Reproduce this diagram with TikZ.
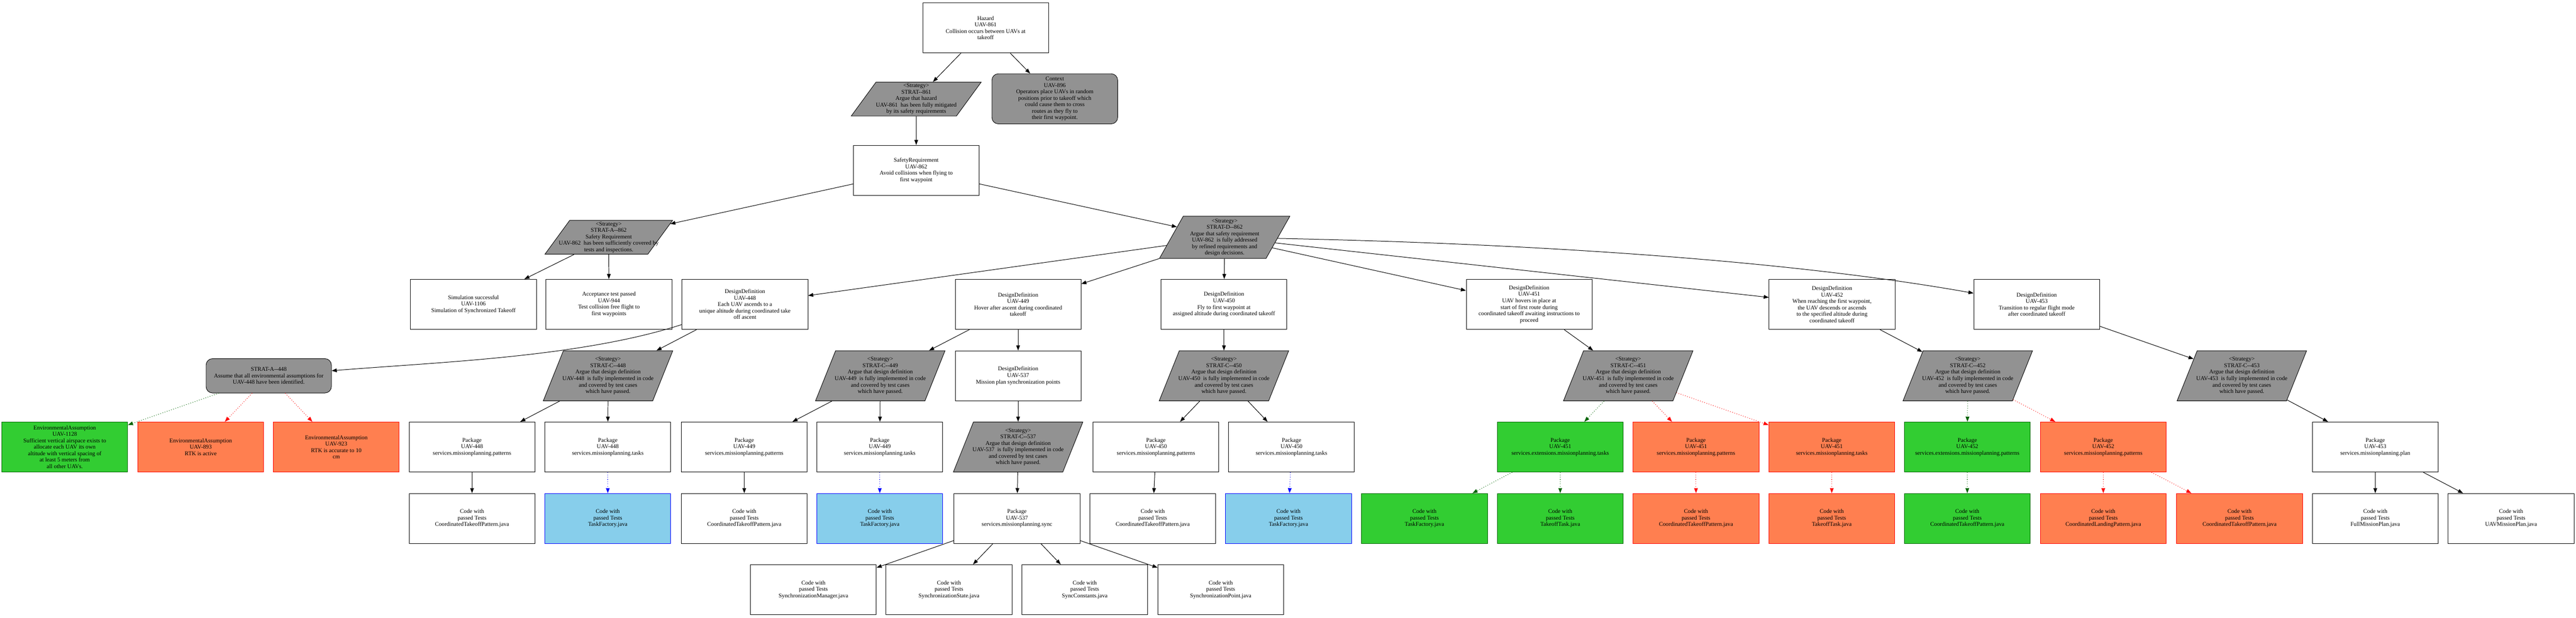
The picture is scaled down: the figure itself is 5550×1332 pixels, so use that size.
\documentclass[tikz,border=0pt]{standalone}
\usepackage{fontspec}
\setmainfont{Liberation Serif}[Ligatures=TeXOff]
\usetikzlibrary{arrows.meta,shapes.geometric}
\definecolor{stratgrey}{HTML}{929292}
\definecolor{okfill}{HTML}{32CD32}
\definecolor{okline}{HTML}{006400}
\definecolor{badfill}{HTML}{FF7F50}
\definecolor{badline}{HTML}{FF0000}
\definecolor{testfill}{HTML}{87CEEB}
\definecolor{testline}{HTML}{0000FF}
\newcommand{\stratlines}[1]{\hbox to 0pt{\hss\begin{tabular}{@{}c@{}}#1\end{tabular}\hss}}

\begin{document}
\begin{tikzpicture}[x=1pt,y=-1pt,>={Triangle[length=11pt,width=8pt]},
		every node/.style={font=\fontsize{12.5}{13.9}\selectfont},
		box/.style={draw,fill=white,line width=1pt,minimum width=271pt,minimum height=108pt,inner sep=0pt,align=center},
		okbox/.style={box,draw=okline,fill=okfill},
		badbox/.style={box,draw=badline,fill=badfill},
		testbox/.style={box,draw=testline,fill=testfill},
		ctxbox/.style={box,fill=stratgrey,rounded corners=14pt},
		stratbox/.style={trapezium,trapezium left angle=62.6,trapezium right angle=117.4,trapezium stretches body,draw,fill=stratgrey,line width=1pt,minimum width=279pt,minimum height=108pt,inner sep=0pt},
		link/.style={->,line width=1.1pt},
		oklink/.style={link,okline,dash pattern=on 1.3pt off 3.6pt},
		badlink/.style={link,badline,dash pattern=on 1.3pt off 3.6pt},
		testlink/.style={link,testline,dash pattern=on 1.3pt off 3.6pt}]
		%
		\useasboundingbox (0,0) rectangle (5550,1332);
		%
		\node[box] (haz) at (2123.5,60) {Hazard\\UAV-861\\Collision occurs between UAVs at\\takeoff};
		\node[stratbox,minimum height=73pt,minimum width=280pt,trapezium left angle=52.5,trapezium right angle=127.5] (s861) at (1974,213.5) {\stratlines{<Strategy>\\STRAT--861\\Argue that hazard\\UAV-861~ has been fully mitigated\\by its safety requirements}};
		\node[ctxbox] (ctx) at (2272.5,213) {Context\\UAV-896\\Operators place UAVs in random\\positions prior to takeoff which\\could cause them to cross\\routes as they fly to\\their first waypoint.};
		\node[box] (sr862) at (1974,367) {SafetyRequirement\\UAV-862\\Avoid collisions when flying to\\first waypoint};
		%
		\node[stratbox,minimum height=73pt,minimum width=275pt,trapezium left angle=52.5,trapezium right angle=127.5] (sA862) at (1311.5,511.5) {\stratlines{<Strategy>\\STRAT-A--862\\Safety Requirement\\UAV-862~ has been sufficiently covered by\\tests and inspections.}};
		\node[stratbox,minimum height=91pt,minimum width=281pt,trapezium left angle=58.4,trapezium right angle=121.6] (sD862) at (2638.5,511.5) {\stratlines{<Strategy>\\STRAT-D--862\\Argue that safety requirement\\UAV-862~ is fully addressed\\by refined requirements and\\design decisions.}};
		%
		\node[box] (sim1106) at (1020,656) {Simulation successful\\UAV-1106\\Simulation of Synchronized Takeoff};
		\node[box] (acc944) at (1312,656) {Acceptance test passed\\UAV-944\\Test collision free flight to\\first waypoints};
		\node[box] (dd448) at (1605,656) {DesignDefinition\\UAV-448\\Each UAV ascends to a\\unique altitude during coordinated take\\off ascent};
		\node[box] (dd449) at (2193.5,656) {DesignDefinition\\UAV-449\\Hover after ascent during coordinated\\takeoff};
		\node[box] (dd450) at (2637,656) {DesignDefinition\\UAV-450\\Fly to first waypoint at\\assigned altitude during coordinated takeoff};
		\node[box] (dd451) at (3294.5,656) {DesignDefinition\\UAV-451\\UAV hovers in place at\\start of first route during\\coordinated takeoff awaiting instructions to\\proceed};
		\node[box] (dd452) at (3947,656) {DesignDefinition\\UAV-452\\When reaching the first waypoint,\\the UAV descends or ascends\\to the specified altitude during\\coordinated takeoff};
		\node[box] (dd453) at (4388,656) {DesignDefinition\\UAV-453\\Transition to regular flight mode\\after coordinated takeoff};
		%
		\node[ctxbox,minimum width=270pt,minimum height=74pt] (sA448) at (579,810) {STRAT-A--448\\Assume that all environmental assumptions for\\UAV-448 have been identified.};
		\node[stratbox] (sC448) at (1310,810) {\stratlines{<Strategy>\\STRAT-C--448\\Argue that design definition\\UAV-448~ is fully implemented in code\\and covered by test cases\\which have passed.}};
		\node[stratbox] (sC449) at (1896.5,810) {\stratlines{<Strategy>\\STRAT-C--449\\Argue that design definition\\UAV-449~ is fully implemented in code\\and covered by test cases\\which have passed.}};
		\node[box] (dd537) at (2193.5,810) {DesignDefinition\\UAV-537\\Mission plan synchronization points};
		\node[stratbox] (sC450) at (2637,810) {\stratlines{<Strategy>\\STRAT-C--450\\Argue that design definition\\UAV-450~ is fully implemented in code\\and covered by test cases\\which have passed.}};
		\node[stratbox] (sC451) at (3508,810) {\stratlines{<Strategy>\\STRAT-C--451\\Argue that design definition\\UAV-451~ is fully implemented in code\\and covered by test cases\\which have passed.}};
		\node[stratbox] (sC452) at (4239.5,810) {\stratlines{<Strategy>\\STRAT-C--452\\Argue that design definition\\UAV-452~ is fully implemented in code\\and covered by test cases\\which have passed.}};
		\node[stratbox] (sC453) at (4830,810) {\stratlines{<Strategy>\\STRAT-C--453\\Argue that design definition\\UAV-453~ is fully implemented in code\\and covered by test cases\\which have passed.}};
		%
		\node[okbox] (env1128) at (139.5,963.5) {EnvironmentalAssumption\\UAV-1128\\Sufficient vertical airspace exists to\\allocate each UAV its own\\altitude with vertical spacing of\\at least 5 meters from\\all other UAVs.};
		\node[badbox] (env893) at (432.5,963.5) {EnvironmentalAssumption\\UAV-893\\RTK is active};
		\node[badbox] (env923) at (724.5,963.5) {EnvironmentalAssumption\\UAV-923\\RTK is accurate to 10\\cm};
		\node[box] (p448pat) at (1017,963.5) {Package\\UAV-448\\services.missionplanning.patterns};
		\node[box] (p448tsk) at (1309.5,963.5) {Package\\UAV-448\\services.missionplanning.tasks};
		\node[box] (p449pat) at (1603.5,963.5) {Package\\UAV-449\\services.missionplanning.patterns};
		\node[box] (p449tsk) at (1895.5,963.5) {Package\\UAV-449\\services.missionplanning.tasks};
		\node[stratbox] (sC537) at (2193.5,963.5) {\stratlines{<Strategy>\\STRAT-C--537\\Argue that design definition\\UAV-537~ is fully implemented in code\\and covered by test cases\\which have passed.}};
		\node[box] (p450pat) at (2490.5,963.5) {Package\\UAV-450\\services.missionplanning.patterns};
		\node[box] (p450tsk) at (2782.5,963.5) {Package\\UAV-450\\services.missionplanning.tasks};
		\node[okbox] (p451ext) at (3361.5,963.5) {Package\\UAV-451\\services.extensions.missionplanning.tasks};
		\node[badbox] (p451pat) at (3654,963.5) {Package\\UAV-451\\services.missionplanning.patterns};
		\node[badbox] (p451tsk) at (3946.5,963.5) {Package\\UAV-451\\services.missionplanning.tasks};
		\node[okbox] (p452ext) at (4238.5,963.5) {Package\\UAV-452\\services.extensions.missionplanning.patterns};
		\node[badbox] (p452pat) at (4531.5,963.5) {Package\\UAV-452\\services.missionplanning.patterns};
		\node[box] (p453pln) at (5117.5,963.5) {Package\\UAV-453\\services.missionplanning.plan};
		%
		\node[box] (c448pat) at (1017,1117.5) {Code with\\passed Tests\\CoordinatedTakeoffPattern.java};
		\node[testbox] (c448tsk) at (1309.5,1117.5) {Code with\\passed Tests\\TaskFactory.java};
		\node[box] (c449pat) at (1603.5,1117.5) {Code with\\passed Tests\\CoordinatedTakeoffPattern.java};
		\node[testbox] (c449tsk) at (1895.5,1117.5) {Code with\\passed Tests\\TaskFactory.java};
		\node[box] (p537syn) at (2191,1117.5) {Package\\UAV-537\\services.missionplanning.sync};
		\node[box] (c450pat) at (2483.5,1117.5) {Code with\\passed Tests\\CoordinatedTakeoffPattern.java};
		\node[testbox] (c450tsk) at (2776,1117.5) {Code with\\passed Tests\\TaskFactory.java};
		\node[okbox] (c451fac) at (3069,1117.5) {Code with\\passed Tests\\TaskFactory.java};
		\node[okbox] (c451tko) at (3361.5,1117.5) {Code with\\passed Tests\\TakeoffTask.java};
		\node[badbox] (c451pat) at (3654,1117.5) {Code with\\passed Tests\\CoordinatedTakeoffPattern.java};
		\node[badbox] (c451tsk) at (3946.5,1117.5) {Code with\\passed Tests\\TakeoffTask.java};
		\node[okbox] (c452ext) at (4238.5,1117.5) {Code with\\passed Tests\\CoordinatedTakeoffPattern.java};
		\node[badbox] (c452lnd) at (4531.5,1117.5) {Code with\\passed Tests\\CoordinatedLandingPattern.java};
		\node[badbox] (c452pat) at (4825,1117.5) {Code with\\passed Tests\\CoordinatedTakeoffPattern.java};
		\node[box] (c453ful) at (5117.5,1117.5) {Code with\\passed Tests\\FullMissionPlan.java};
		\node[box] (c453uav) at (5410,1117.5) {Code with\\passed Tests\\UAVMissionPlan.java};
		%
		\node[box] (c537mgr) at (1752.5,1271) {Code with\\passed Tests\\SynchronizationManager.java};
		\node[box] (c537sta) at (2044.5,1271) {Code with\\passed Tests\\SynchronizationState.java};
		\node[box] (c537con) at (2337,1271) {Code with\\passed Tests\\SyncConstants.java};
		\node[box] (c537pnt) at (2630,1271) {Code with\\passed Tests\\SynchronizationPoint.java};
		%
		\draw[link] (haz) -- (s861);
		\draw[link] (haz) -- (ctx);
		\draw[link] (s861) -- (sr862);
		\draw[link] (sr862) -- (sA862);
		\draw[link] (sr862) -- (sD862);
		\draw[link] (sA862) -- (sim1106);
		\draw[link] (sA862) -- (acc944);
		\draw[link] (sD862) -- (dd448);
		\draw[link] (sD862) -- (dd449);
		\draw[link] (sD862) -- (dd450);
		\draw[link] (sD862) -- (dd451);
		\draw[link] (sD862) -- (dd452);
		\draw[link] (sD862) .. controls (3300,525) and (3853,561) .. (dd453);
		%
		\draw[link] (dd448) .. controls (1250,770) and (950,780) .. (sA448);
		\draw[link] (dd448) -- (sC448);
		\draw[link] (dd449) -- (sC449);
		\draw[link] (dd449) -- (dd537);
		\draw[link] (dd450) -- (sC450);
		\draw[link] (dd451) -- (sC451);
		\draw[link] (dd452) -- (sC452);
		\draw[link] (dd453) -- (sC453);
		%
		\draw[oklink] (sA448) -- (env1128);
		\draw[badlink] (sA448) -- (env893);
		\draw[badlink] (sA448) -- (env923);
		\draw[link] (sC448) -- (p448pat);
		\draw[link] (sC448) -- (p448tsk);
		\draw[link] (sC449) -- (p449pat);
		\draw[link] (sC449) -- (p449tsk);
		\draw[link] (dd537) -- (sC537);
		\draw[link] (sC450) -- (p450pat);
		\draw[link] (sC450) -- (p450tsk);
		\draw[oklink] (sC451) -- (p451ext);
		\draw[badlink] (sC451) -- (p451pat);
		\draw[badlink] (sC451) -- (p451tsk);
		\draw[oklink] (sC452) -- (p452ext);
		\draw[badlink] (sC452) -- (p452pat);
		\draw[link] (sC453) -- (p453pln);
		%
		\draw[link] (p448pat) -- (c448pat);
		\draw[testlink] (p448tsk) -- (c448tsk);
		\draw[link] (p449pat) -- (c449pat);
		\draw[testlink] (p449tsk) -- (c449tsk);
		\draw[link] (sC537) -- (p537syn);
		\draw[link] (p450pat) -- (c450pat);
		\draw[testlink] (p450tsk) -- (c450tsk);
		\draw[oklink] (p451ext) -- (c451fac);
		\draw[oklink] (p451ext) -- (c451tko);
		\draw[badlink] (p451pat) -- (c451pat);
		\draw[badlink] (p451tsk) -- (c451tsk);
		\draw[oklink] (p452ext) -- (c452ext);
		\draw[badlink] (p452pat) -- (c452lnd);
		\draw[badlink] (p452pat) -- (c452pat);
		\draw[link] (p453pln) -- (c453ful);
		\draw[link] (p453pln) -- (c453uav);
		%
		\draw[link] (p537syn) -- (c537mgr);
		\draw[link] (p537syn) -- (c537sta);
		\draw[link] (p537syn) -- (c537con);
		\draw[link] (p537syn) -- (c537pnt);
		%
	\end{tikzpicture}
\end{document}
